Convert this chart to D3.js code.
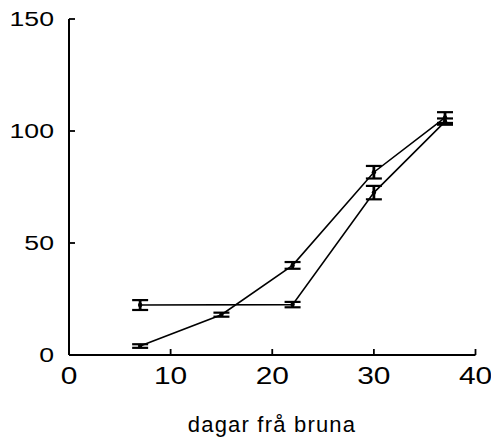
<!DOCTYPE html>
<html>
<head>
<meta charset="utf-8">
<script src="https://cdn.jsdelivr.net/npm/d3@7"></script>
<style>
  html, body { margin: 0; padding: 0; background: #fff; }
  svg { display: block; }
  text { font-family: "Liberation Sans", Arial, sans-serif; fill: #000; }
</style>
</head>
<body>
<svg id="chart" width="491" height="437"></svg>
<script>
// Days after browning (x) and measured values with error bars
const xTicks = [0, 10, 20, 30, 40];
const yTicks = [0, 50, 100, 150];
const xTitle = "dagar frå bruna";

const daysA = [7, 22, 30, 37];
const valuesA = [22.3, 22.5, 72.5, 104.2];
const errorsA = [2.2, 1.2, 3.0, 1.4];

const daysB = [7, 15, 22, 30, 37];
const valuesB = [4.0, 18.0, 40.0, 81.6, 106.0];
const errorsB = [0.8, 0.9, 1.5, 2.8, 2.4];

const series = [
  { days: daysA, values: valuesA, errors: errorsA },
  { days: daysB, values: valuesB, errors: errorsB }
];

const svg = d3.select("#chart");
const x = d3.scaleLinear().domain([0, 40]).range([69, 475.5]);
const y = d3.scaleLinear().domain([0, 150]).range([355, 19]);

const axisG = svg.append("g");

// Axis lines
axisG.append("line")
  .attr("x1", x(0)).attr("x2", x(40)).attr("y1", y(0)).attr("y2", y(0))
  .attr("stroke", "#000").attr("stroke-width", 2);
axisG.append("line")
  .attr("x1", x(0)).attr("x2", x(0)).attr("y1", y(0)).attr("y2", y(150))
  .attr("stroke", "#000").attr("stroke-width", 2);

// Inward ticks
axisG.selectAll(".xt").data(xTicks.filter(d => d > 0)).join("line")
  .attr("x1", d => x(d)).attr("x2", d => x(d))
  .attr("y1", y(0)).attr("y2", y(0) - 6)
  .attr("stroke", "#000").attr("stroke-width", 1.8);
axisG.selectAll(".yt").data(yTicks.filter(d => d > 0)).join("line")
  .attr("x1", x(0)).attr("x2", x(0) + 6)
  .attr("y1", d => y(d)).attr("y2", d => y(d))
  .attr("stroke", "#000").attr("stroke-width", 1.8);

// Tick labels, horizontally widened
axisG.selectAll(".xl").data(xTicks).join("g")
  .attr("transform", d => `translate(${x(d)},384) scale(1.3,1)`)
  .append("text")
  .attr("text-anchor", "middle")
  .attr("font-size", 23)
  .text(d => d);

axisG.selectAll(".yl").data(yTicks).join("g")
  .attr("transform", d => `translate(54,${y(d) + 7}) scale(1.3,1)`)
  .append("text")
  .attr("text-anchor", "end")
  .attr("font-size", 20.5)
  .text(d => d);

// Axis title
svg.append("text")
  .attr("x", 272).attr("y", 432)
  .attr("text-anchor", "middle")
  .attr("font-size", 22)
  .attr("letter-spacing", 1.2)
  .text(xTitle);

// Lines, error bars and points for both series
const line = d3.line().x(d => x(d[0])).y(d => y(d[1]));
const capHalf = 8;

series.forEach(s => {
  const pts = s.days.map((d, i) => [d, s.values[i], s.errors[i]]);
  svg.append("path")
    .attr("d", line(pts))
    .attr("fill", "none")
    .attr("stroke", "#000")
    .attr("stroke-width", 1.6);

  const g = svg.append("g");
  const bars = g.selectAll("g").data(pts).join("g");
  bars.append("line")
    .attr("x1", d => x(d[0])).attr("x2", d => x(d[0]))
    .attr("y1", d => y(d[1] - d[2])).attr("y2", d => y(d[1] + d[2]))
    .attr("stroke", "#000").attr("stroke-width", 2.8);
  bars.append("line")
    .attr("x1", d => x(d[0]) - capHalf).attr("x2", d => x(d[0]) + capHalf)
    .attr("y1", d => y(d[1] + d[2])).attr("y2", d => y(d[1] + d[2]))
    .attr("stroke", "#000").attr("stroke-width", 2.2);
  bars.append("line")
    .attr("x1", d => x(d[0]) - capHalf).attr("x2", d => x(d[0]) + capHalf)
    .attr("y1", d => y(d[1] - d[2])).attr("y2", d => y(d[1] - d[2]))
    .attr("stroke", "#000").attr("stroke-width", 2.2);
  bars.append("circle")
    .attr("cx", d => x(d[0])).attr("cy", d => y(d[1]))
    .attr("r", 2.2).attr("fill", "#000");
});
</script>
</body>
</html>
